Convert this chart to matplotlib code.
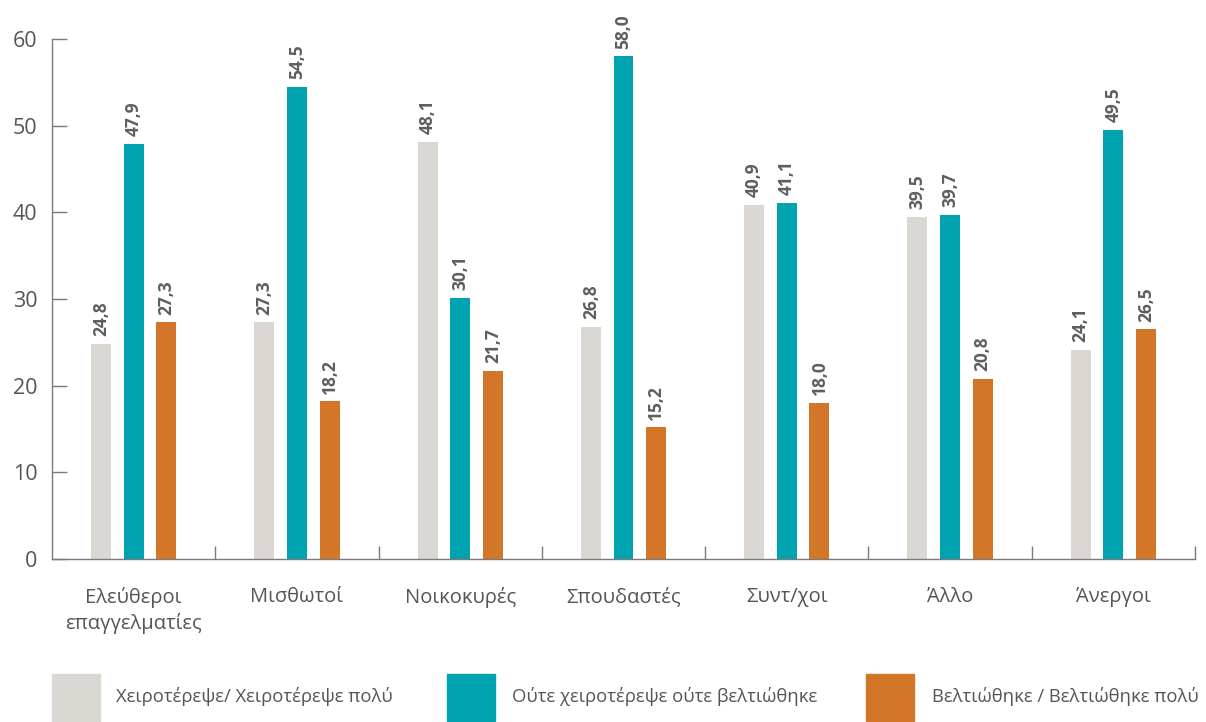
import matplotlib
matplotlib.use("Agg")
import matplotlib.pyplot as plt
from matplotlib.patches import Rectangle
import numpy as np

plt.rcParams['font.family'] = ['Open Sans', 'DejaVu Sans']

categories = ["Ελεύθεροι\nεπαγγελματίες", "Μισθωτοί", "Νοικοκυρές", "Σπουδαστές",
              "Συντ/χοι", "Άλλο", "Άνεργοι"]
series_names = ["Χειροτέρεψε/ Χειροτέρεψε πολύ",
                "Ούτε χειροτέρεψε ούτε βελτιώθηκε",
                "Βελτιώθηκε / Βελτιώθηκε πολύ"]
worse = [24.8, 27.3, 48.1, 26.8, 40.9, 39.5, 24.1]
same = [47.9, 54.5, 30.1, 58.0, 41.1, 39.7, 49.5]
better = [27.3, 18.2, 21.7, 15.2, 18.0, 20.8, 26.5]
colors = ["#DBD7D3", "#00A3B0", "#D4762A"]
yticks = [0, 10, 20, 30, 40, 50, 60]

W, H = 1206, 722
fig = plt.figure(figsize=(W / 100, H / 100), dpi=100)
ax = fig.add_axes([52 / W, (H - 559) / H, 1143 / W, 520 / H])

x = np.arange(len(categories))
offsets = [-0.2, 0.0, 0.2]
bw = 0.122
for vals, off, col in zip([worse, same, better], offsets, colors):
    bars = ax.bar(x + off, vals, width=bw, color=col, zorder=2)
    for rect, v in zip(bars, vals):
        ax.annotate(f"{v:.1f}".replace(".", ","),
                    (rect.get_x() + rect.get_width() / 2, v),
                    xytext=(0, 5.5), textcoords="offset points",
                    rotation=90, ha="center", va="bottom",
                    fontsize=12.5, fontweight="bold", color="#5e5e5e")

ax.set_xlim(-0.5, len(categories) - 0.5)
ax.set_ylim(0, 60)
ax.set_yticks(yticks)
ax.set_yticklabels([str(t) for t in yticks])
ax.set_xticks(x)
ax.set_xticklabels(categories, linespacing=1.35)
ax.set_xticks(np.arange(len(categories)) + 0.5, minor=True)

for s in ["top", "right"]:
    ax.spines[s].set_visible(False)
for s in ["left", "bottom"]:
    ax.spines[s].set_color("#7a7a7a")
    ax.spines[s].set_linewidth(1.0)

ax.tick_params(axis="y", direction="in", length=10.8, width=1.0, color="#7a7a7a",
               pad=10.5, labelsize=15.5, labelcolor="#555555")
ax.tick_params(axis="x", which="major", length=0, pad=20, labelsize=14.5,
               labelcolor="#555555")
ax.tick_params(axis="x", which="minor", direction="in", length=9.4, width=1.0,
               color="#7a7a7a")
for lbl in ax.get_xticklabels():
    lbl.set_verticalalignment("top")

# Legend drawn as figure-level boxes and labels
legend_pos = [(52, 116), (447, 512), (866, 932)]
for (sx, tx), name, col in zip(legend_pos, series_names, colors):
    fig.add_artist(Rectangle((sx / W, (H - 721) / H), 48 / W, 47 / H,
                             transform=fig.transFigure, color=col))
    fig.text(tx / W, (H - 697) / H, name, ha="left", va="center",
             fontsize=13.3, color="#555555")

fig.savefig("out.png", dpi=100)
